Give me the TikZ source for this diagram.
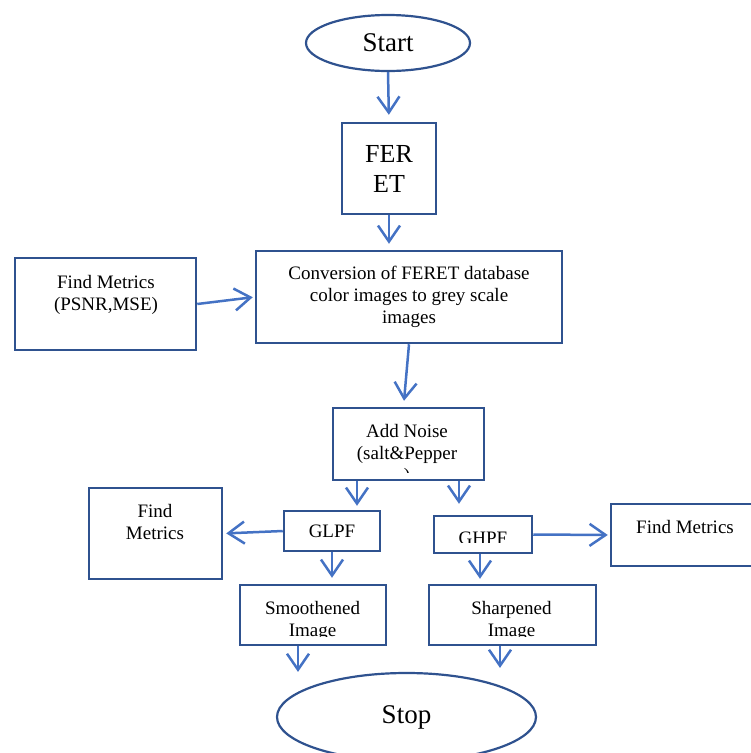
\documentclass[tikz,border=0pt]{standalone}
\usepackage{fontspec}
\setmainfont{Liberation Serif}
\usetikzlibrary{arrows.meta,shapes.geometric}
\definecolor{boxblue}{HTML}{2F528F}
\definecolor{arrblue}{HTML}{4472C4}
\begin{document}
\begin{tikzpicture}[x=1pt,y=-1pt,
  box/.style={draw=boxblue,line width=2.5pt,inner sep=0pt,fill=white},
  oval/.style={ellipse,draw=boxblue,line width=2.2pt,inner sep=0pt,fill=white},
  lbl/.style={font=\fontsize{19}{22}\selectfont,align=center,inner sep=0pt},
  arr/.style={draw=arrblue,line width=2.5pt,-{Straight Barb[length=16pt,width=22pt]}},
]
\useasboundingbox (0,0) rectangle (751,753);

% terminals
\node[oval,minimum width=164pt,minimum height=56pt] (start) at (388,43)
  {\fontsize{27}{30}\selectfont Start};
\node[oval,minimum width=259pt,minimum height=88pt] (stop) at (406.5,717)
  {\fontsize{27}{30}\selectfont Stop};

% boxes
\node[box,minimum width=94pt,minimum height=91pt,align=center,
      font=\fontsize{26}{30}\selectfont] (feret) at (389,168.5) {FER\\ET};
\node[box,minimum width=306pt,minimum height=92pt,lbl] (conv) at (409,297)
  {Conversion of FERET database\\color images to grey scale\\images};
\node[box,minimum width=181pt,minimum height=92pt] (fm1) at (105.5,304) {};
\node[lbl] (fm1t) at (106,294.5) {Find Metrics\\(PSNR,MSE)};
\node[box,minimum width=151pt,minimum height=72pt] (noise) at (408.5,444) {};
\node[box,minimum width=96pt,minimum height=40pt,lbl] (glpf) at (332,531) {GLPF};
\node[box,minimum width=98pt,minimum height=37pt] (ghpf) at (483,534.5) {};
\node[box,minimum width=133pt,minimum height=91pt] (fm2) at (155.5,533.5) {};
\node[lbl] (fm2t) at (155,521.5) {Find\\Metrics};
\node[box,minimum width=169pt,minimum height=62pt] (fm3) at (695.5,535) {};
\node[lbl,anchor=base] (fm3t) at (685,533) {Find Metrics};
\node[box,minimum width=146pt,minimum height=60pt] (smooth) at (313,615) {};
\node[box,minimum width=167pt,minimum height=60pt] (sharp) at (512.5,615) {};

% clipped texts
\begin{scope}
  \clip (335,410) rectangle (482,472);
  \node[lbl] (noiset) at (407,454.5) {Add Noise\\(salt\&Pepper\\)};
\end{scope}
\begin{scope}
  \clip (436,518) rectangle (530,542.5);
  \node[lbl,anchor=base] (ghpft) at (483,544.6) {GHPF};
\end{scope}
\begin{scope}
  \clip (242,587) rectangle (384,636);
  \node[lbl] (smootht) at (312.5,620.5) {Smoothened\\Image};
\end{scope}
\begin{scope}
  \clip (431,587) rectangle (594,636);
  \node[lbl] (sharpt) at (511.5,620.5) {Sharpened\\Image};
\end{scope}

% connectors
\draw[arr,shorten >=7pt] (start.south) -- (feret.north);
\draw[arr,shorten >=6pt] (feret.south) -- (feret.south |- conv.north);
\draw[arr,shorten >=2pt] (fm1.east) -- (conv.west);
\draw[arr,shorten >=6pt] (conv.south) -- ([xshift=-5pt]noise.north);
\draw[arr,shorten >=4pt] ([xshift=25pt]glpf.north |- noise.south) -- ([xshift=25pt]glpf.north);
\draw[arr,shorten >=11pt] ([xshift=-24pt]ghpf.north |- noise.south) -- ([xshift=-24pt]ghpf.north);
\draw[arr,shorten >=3pt] (glpf.west) -- (fm2.east);
\draw[arr,shorten >=2pt] (ghpf.east) -- (fm3.west);
\draw[arr,shorten >=6pt] (glpf.south) -- (glpf.south |- smooth.north);
\draw[arr,shorten >=5pt] ([xshift=-3pt]ghpf.south) -- ([xshift=-3pt]ghpf.south |- sharp.north);
\draw[arr] ([xshift=-15pt]smooth.south) -- ([xshift=-15pt]smooth.south |- stop.north);
\draw[arr,shorten >=4pt] ([xshift=-12.5pt]sharp.south) -- ([xshift=-12.5pt]sharp.south |- stop.north);
\end{tikzpicture}
\end{document}
